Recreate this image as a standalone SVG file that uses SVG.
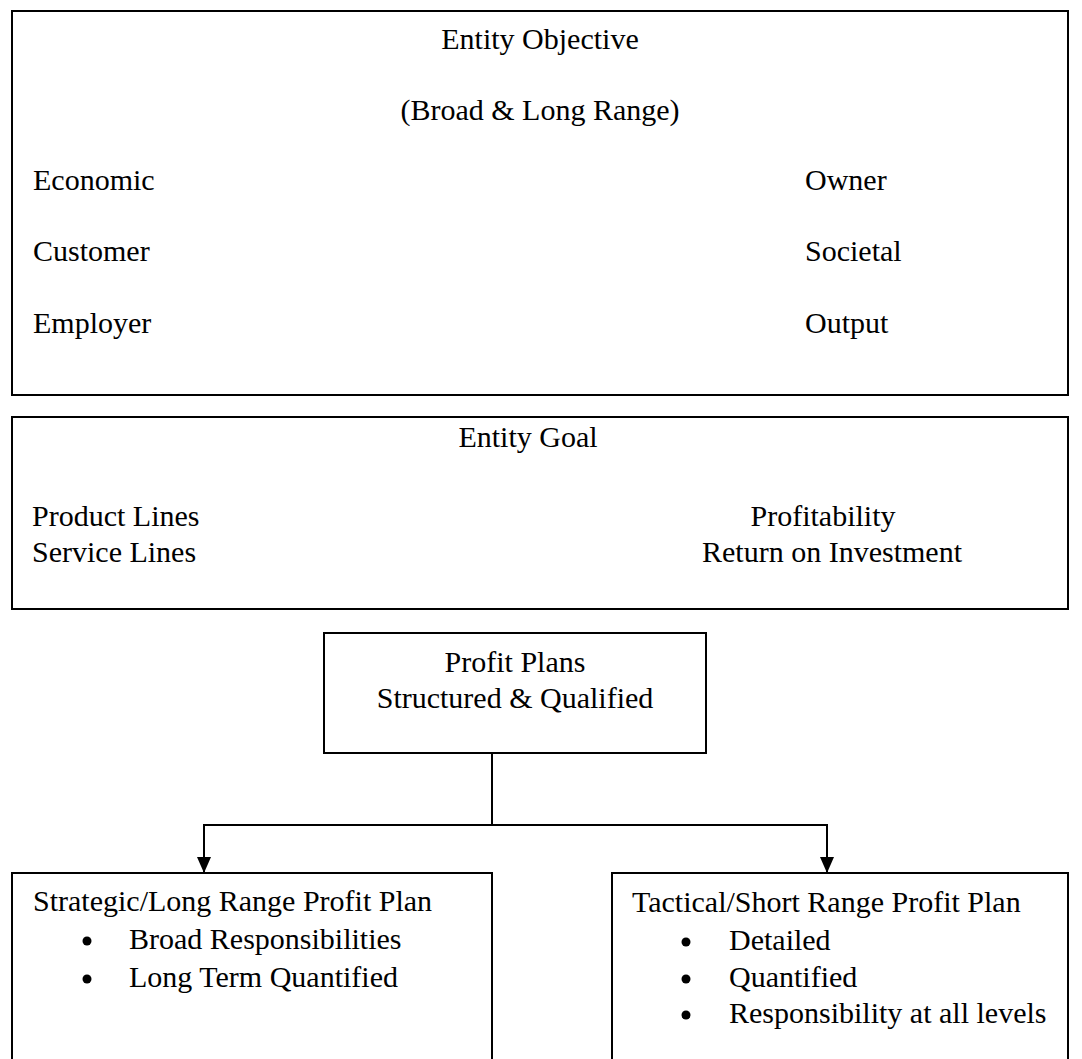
<svg xmlns="http://www.w3.org/2000/svg" width="1082" height="1059" viewBox="0 0 1082 1059">
  <style>
    .box { fill: #ffffff; stroke: #000000; stroke-width: 2; }
    .t { font-family: "Liberation Serif", "Times New Roman", serif; font-size: 30px; fill: #000000; }
    .c { text-anchor: middle; }
    .conn { fill: none; stroke: #000000; stroke-width: 2; }
    .bullet { fill: #000000; }
  </style>
  <defs>
    <marker id="arrow" viewBox="0 0 16 14" refX="16" refY="7" markerWidth="16" markerHeight="14" markerUnits="userSpaceOnUse" orient="auto">
      <path d="M0,0 L16,7 L0,14 z" fill="#000000"/>
    </marker>
  </defs>
  <rect x="0" y="0" width="1082" height="1059" fill="#ffffff"/>

  <g id="entity-objective">
    <rect class="box" x="12" y="11" width="1056" height="384"/>
    <text class="t c" x="540" y="49">Entity Objective</text>
    <text class="t c" x="540" y="120">(Broad &amp; Long Range)</text>
    <text class="t" x="33" y="190">Economic</text>
    <text class="t" x="33" y="261">Customer</text>
    <text class="t" x="33" y="333">Employer</text>
    <text class="t" x="805" y="190">Owner</text>
    <text class="t" x="805" y="261">Societal</text>
    <text class="t" x="805" y="333">Output</text>
  </g>

  <g id="entity-goal">
    <rect class="box" x="12" y="417" width="1056" height="192"/>
    <text class="t c" x="528" y="447">Entity Goal</text>
    <text class="t" x="32" y="526">Product Lines</text>
    <text class="t" x="32" y="562">Service Lines</text>
    <text class="t c" x="823" y="526">Profitability</text>
    <text class="t c" x="832" y="562">Return on Investment</text>
  </g>

  <g id="profit-plans">
    <rect class="box" x="324" y="633" width="382" height="120"/>
    <text class="t c" x="515" y="672">Profit Plans</text>
    <text class="t c" x="515" y="708">Structured &amp; Qualified</text>
  </g>

  <g id="connectors">
    <path class="conn" d="M492,753 V825"/>
    <path class="conn" d="M203,825 H828"/>
    <path class="conn" d="M204,825 V873" marker-end="url(#arrow)"/>
    <path class="conn" d="M827,825 V873" marker-end="url(#arrow)"/>
  </g>

  <g id="strategic-plan">
    <rect class="box" x="12" y="873" width="480" height="200"/>
    <text class="t" x="33" y="911">Strategic/Long Range Profit Plan</text>
    <circle class="bullet" cx="87" cy="941" r="4.5"/>
    <text class="t" x="129" y="949">Broad Responsibilities</text>
    <circle class="bullet" cx="87" cy="979" r="4.5"/>
    <text class="t" x="129" y="987">Long Term Quantified</text>
  </g>

  <g id="tactical-plan">
    <rect class="box" x="612" y="873" width="456" height="200"/>
    <text class="t" x="632" y="912">Tactical/Short Range Profit Plan</text>
    <circle class="bullet" cx="686" cy="942" r="4.5"/>
    <text class="t" x="729" y="950">Detailed</text>
    <circle class="bullet" cx="686" cy="979" r="4.5"/>
    <text class="t" x="729" y="987">Quantified</text>
    <circle class="bullet" cx="686" cy="1015" r="4.5"/>
    <text class="t" x="729" y="1023">Responsibility at all levels</text>
  </g>
</svg>
